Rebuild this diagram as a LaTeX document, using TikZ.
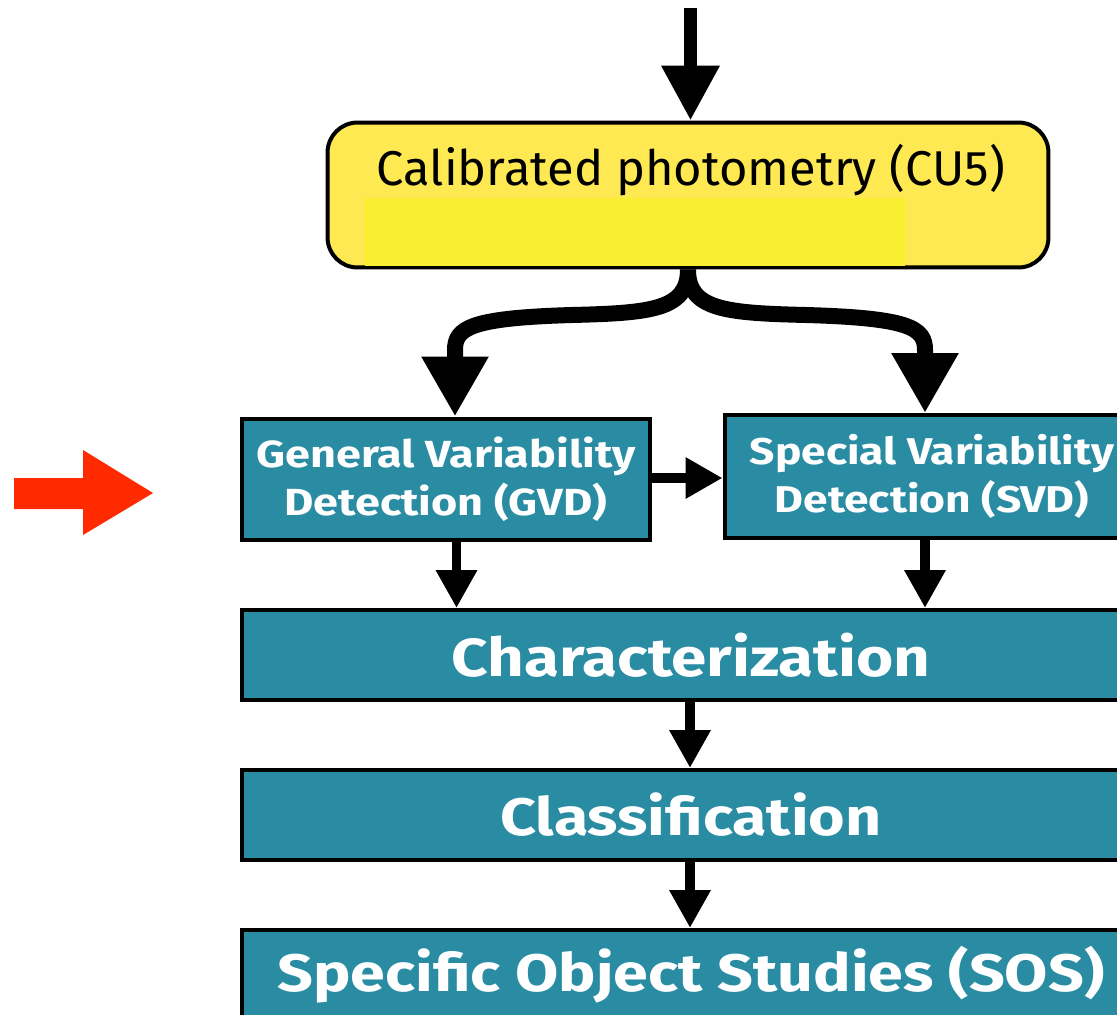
\documentclass[tikz,border=0pt]{standalone}
\usepackage{fontspec}
\setsansfont{Fira Sans}
\newfontfamily\stagefont{Fira Sans}[FakeStretch=1.19]
\usetikzlibrary{arrows.meta,calc}
\definecolor{stageteal}{RGB}{41,140,163}
\definecolor{calyellow}{RGB}{255,233,82}
\definecolor{calinner}{RGB}{250,238,50}
\definecolor{markred}{RGB}{255,42,0}
\begin{document}
\begin{tikzpicture}[x=0.02cm,y=-0.02cm,
  stage/.style={draw=black, line width=0.08cm, fill=stageteal, text=white,
    font=\stagefont\bfseries, inner sep=0pt, align=center},
  calbox/.style={draw=black, line width=0.08cm, fill=calyellow, rounded corners=0.6cm,
    minimum width=14.42cm, minimum height=2.9cm, inner sep=0pt},
  toparrow/.style={line width=0.26cm, -{Triangle[width=1.1cm,length=1.1cm]}},
  brancharrow/.style={line width=0.32cm, -{Triangle[width=1.26cm,length=1.2cm]}},
  smallarrow/.style={line width=0.19cm, -{Triangle[width=0.78cm,length=0.76cm]}},
]
\clip (0,0) rectangle (1117,1015);
\fill[white] (0,0) rectangle (1117,1015);

% red marker arrow
\fill[markred] (14,478) -- (83,478) -- (83,450) -- (153,493) -- (83,535) -- (83,509) -- (14,509) -- cycle;

% calibrated photometry box
\node[calbox] (cal) at (688,195) {};
\fill[calinner] (365,198) rectangle (905,266);
\node[font=\sffamily\fontsize{27.8}{30}\selectfont, inner sep=0pt] (caltext) at (691,170) {Calibrated photometry (CU5)};

% stage boxes
\node[stage, minimum width=8.16cm, minimum height=2.44cm, font=\stagefont\bfseries\fontsize{21.5}{27.5}\selectfont]
  (gvd) at (446,479.5) {General Variability\\Detection (GVD)};
\node[stage, minimum width=8.3cm, minimum height=2.46cm, font=\stagefont\bfseries\fontsize{21.2}{27.5}\selectfont]
  (svd) at (932,476.5) {Special Variability\\Detection (SVD)};
\node[stage, minimum width=17.96cm, minimum height=1.8cm, font=\stagefont\bfseries\fontsize{30.5}{34}\selectfont]
  (char) at (691,655) {Characterization};
\node[stage, minimum width=17.96cm, minimum height=1.8cm, font=\stagefont\bfseries\fontsize{30}{34}\selectfont]
  (class) at (691,815) {Classification};
\node[stage, minimum width=17.96cm, minimum height=1.8cm, font=\stagefont\bfseries\fontsize{30}{35}\selectfont]
  (sos) at (691,975) {Specific Object Studies (SOS)};

% connectors
\coordinate (in) at (690.5,8);
\draw[toparrow] (in) -- (in |- cal.north);

\coordinate (gtop) at ($(gvd.north)+(9,0)$);
\coordinate (stop) at ($(svd.north)+(-7,0)$);
\draw[brancharrow] (cal.south) .. controls (688,310) and (650,313) .. (572,315)
   .. controls (470,318) and (455,328) .. (455,350) -- (gtop);
\draw[brancharrow] (cal.south) .. controls (688,310) and (726,313) .. (806,315)
   .. controls (910,318) and (925,328) .. (925,350) -- (stop);

\coordinate (gsv) at ($(gvd.east)+(0,-1.5)$);
\draw[smallarrow, line width=0.2cm, -{Triangle[width=0.78cm,length=0.74cm]}] (gsv) -- (gsv -| svd.west);

\coordinate (gb) at ($(gvd.south)+(10.5,0)$);
\draw[smallarrow] (gb) -- (gb |- char.north);
\coordinate (sb) at ($(svd.south)+(-7,0)$);
\draw[smallarrow] (sb) -- (sb |- char.north);

\coordinate (cb) at ($(char.south)+(-1,0)$);
\draw[smallarrow] (cb) -- (cb |- class.north);
\coordinate (clb) at ($(class.south)+(-1,0)$);
\draw[smallarrow] (clb) -- (clb |- sos.north);
\end{tikzpicture}
\end{document}
